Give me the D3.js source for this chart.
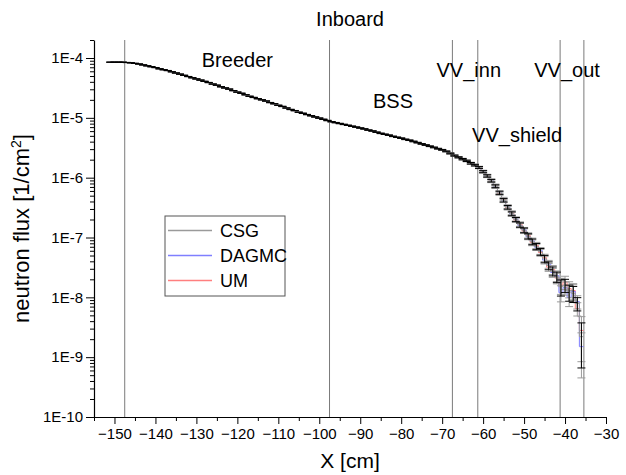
<!DOCTYPE html>
<html>
<head>
<meta charset="utf-8">
<script src="https://cdn.jsdelivr.net/npm/d3@7"></script>
<style>
  body { margin: 0; background: #fff; }
  text { font-family: "Liberation Sans", Arial, sans-serif; fill: #000; }
</style>
</head>
<body>
<div id="chart"></div>
<script>
const svgWidth = 626;
const svgHeight = 475;

const margin = { top: 40, right: 20, bottom: 58, left: 94 };
const width = svgWidth - margin.left - margin.right;
const height = svgHeight - margin.top - margin.bottom;

// bin centres in cm (1 cm bins)
const binCentres = d3.range(-151, -35);

// breeder + BSS part (-151 .. -68): the three codes agree within line width here
const fluxCommon = [
  8.51e-5, 8.51e-5, 8.51e-5, 8.51e-5, 8.41e-5, 8.32e-5, 8.13e-5, 7.94e-5, 7.67e-5, 7.41e-5,
  7.16e-5, 6.92e-5, 6.61e-5, 6.38e-5, 6.17e-5, 5.89e-5, 5.62e-5, 5.37e-5, 5.13e-5, 4.90e-5,
  4.68e-5, 4.47e-5, 4.27e-5, 4.07e-5, 3.89e-5, 3.67e-5, 3.51e-5, 3.31e-5, 3.16e-5, 3.02e-5,
  2.85e-5, 2.69e-5, 2.57e-5, 2.43e-5, 2.29e-5, 2.19e-5, 2.09e-5, 2.00e-5, 1.91e-5, 1.80e-5,
  1.72e-5, 1.62e-5, 1.55e-5, 1.46e-5, 1.38e-5, 1.32e-5, 1.24e-5, 1.19e-5, 1.135e-5, 1.084e-5,
  1.035e-5, 9.89e-6, 9.44e-6, 9.02e-6, 8.61e-6, 8.32e-6, 8.04e-6, 7.76e-6, 7.50e-6, 7.24e-6,
  7.00e-6, 6.76e-6, 6.53e-6, 6.24e-6, 6.03e-6, 5.75e-6, 5.50e-6, 5.31e-6, 5.13e-6, 4.90e-6,
  4.73e-6, 4.57e-6, 4.37e-6, 4.22e-6, 4.03e-6, 3.85e-6, 3.67e-6, 3.51e-6, 3.35e-6, 3.20e-6,
  3.05e-6, 2.92e-6, 2.75e-6, 2.54e-6
];

// vacuum vessel part (-67 .. -36)
const csgSteep = [
  2.34e-6, 2.19e-6, 2.04e-6, 1.91e-6, 1.74e-6, 1.62e-6, 1.48e-6, 1.26e-6, 1.07e-6, 8.9e-7,
  7.2e-7, 5.6e-7, 4.2e-7, 3.2e-7, 2.5e-7, 2.0e-7, 1.62e-7, 1.32e-7, 1.05e-7, 8.5e-8,
  7.1e-8, 5.8e-8, 4.4e-8, 3.4e-8, 2.75e-8, 2.2e-8, 1.5e-8, 1.6e-8, 1.23e-8, 1.17e-8,
  7.9e-9, 2.2e-9
];
const dagmcSteep = [
  2.36e-6, 2.17e-6, 2.06e-6, 1.89e-6, 1.76e-6, 1.60e-6, 1.46e-6, 1.28e-6, 1.05e-6, 9.1e-7,
  7.0e-7, 5.7e-7, 4.1e-7, 3.3e-7, 2.45e-7, 2.05e-7, 1.58e-7, 1.35e-7, 1.02e-7, 8.8e-8,
  6.9e-8, 6.0e-8, 4.2e-8, 3.6e-8, 2.6e-8, 2.3e-8, 1.2e-8, 1.45e-8, 1.0e-8, 1.25e-8,
  8.5e-9, 1.5e-9
];
const umSteep = [
  2.33e-6, 2.21e-6, 2.02e-6, 1.93e-6, 1.72e-6, 1.64e-6, 1.50e-6, 1.24e-6, 1.09e-6, 8.7e-7,
  7.4e-7, 5.4e-7, 4.4e-7, 3.1e-7, 2.6e-7, 1.95e-7, 1.68e-7, 1.28e-7, 1.09e-7, 8.2e-8,
  7.4e-8, 5.6e-8, 4.6e-8, 3.2e-8, 2.9e-8, 2.1e-8, 1.6e-8, 1.8e-8, 1.4e-8, 1.3e-8,
  6.5e-9, 2.8e-9
];

// relative statistical error per bin
const relErrCommon = [
  0.003, 0.003, 0.003, 0.003, 0.003, 0.003, 0.003, 0.003, 0.003, 0.003,
  0.003, 0.003, 0.003, 0.003, 0.003, 0.003, 0.003, 0.003, 0.003, 0.003,
  0.004, 0.004, 0.004, 0.004, 0.004, 0.004, 0.004, 0.004, 0.004, 0.004,
  0.004, 0.004, 0.004, 0.004, 0.004, 0.004, 0.004, 0.004, 0.004, 0.004,
  0.005, 0.005, 0.005, 0.005, 0.005, 0.005, 0.005, 0.005, 0.005, 0.005,
  0.006, 0.006, 0.006, 0.006, 0.006, 0.006, 0.006, 0.006, 0.006, 0.006,
  0.007, 0.007, 0.007, 0.007, 0.007, 0.007, 0.008, 0.008, 0.008, 0.008,
  0.009, 0.009, 0.009, 0.010, 0.010, 0.010, 0.011, 0.011, 0.012, 0.012,
  0.013, 0.014, 0.015, 0.017
];
const relErrSteep = [
  0.02, 0.02, 0.025, 0.025, 0.03, 0.03, 0.035, 0.04, 0.045, 0.05,
  0.055, 0.06, 0.065, 0.07, 0.075, 0.08, 0.085, 0.09, 0.10, 0.11,
  0.12, 0.13, 0.14, 0.15, 0.17, 0.20, 0.30, 0.25, 0.30, 0.30,
  0.25, 0.70
];

// layer boundaries (cm)
const boundaries = [-147.5, -97.5, -67.5, -61.3, -41.2, -35.4];
const regionLabels = [
  { text: "Breeder", x: -120, y: 7.1e-5 },
  { text: "BSS", x: -82, y: 1.46e-5 },
  { text: "VV_inn", x: -63.5, y: 4.8e-5 },
  { text: "VV_out", x: -39.5, y: 4.8e-5 },
  { text: "VV_shield", x: -51.7, y: 3.9e-6 }
];

const yTicks = [1e-10, 1e-9, 1e-8, 1e-7, 1e-6, 1e-5, 1e-4];
const xTicks = d3.range(-150, -29, 10);

const series = [
  { name: "CSG", values: fluxCommon.concat(csgSteep), line: "#9a9a9a", err: "#000" },
  { name: "DAGMC", values: fluxCommon.concat(dagmcSteep), line: "#7f7fff", err: "#9a9a9a" },
  { name: "UM", values: fluxCommon.concat(umSteep), line: "#ff7f7f", err: "#9a9a9a" }
];
const relErr = relErrCommon.concat(relErrSteep);

const svg = d3.select("#chart")
  .append("svg")
  .attr("width", svgWidth)
  .attr("height", svgHeight);

const chartGroup = svg.append("g")
  .attr("transform", `translate(${margin.left}, ${margin.top})`);

const xScale = d3.scaleLinear().domain([-155, -30]).range([0, width]);
const yScale = d3.scaleLog().domain([1e-10, 2e-4]).range([height, 0]);

// boundary lines
chartGroup.selectAll(".bound")
  .data(boundaries)
  .enter()
  .append("line")
  .attr("x1", d => xScale(d)).attr("x2", d => xScale(d))
  .attr("y1", 0).attr("y2", height)
  .attr("stroke", "#7a7a7a")
  .attr("stroke-width", 1);

// step lines
const stepLine = d3.line()
  .x(d => xScale(d[0]))
  .y(d => yScale(d[1]));

series.slice().reverse().forEach(s => {
  const pts = [];
  s.values.forEach((v, i) => {
    pts.push([binCentres[i] - 0.5, v]);
    pts.push([binCentres[i] + 0.5, v]);
  });
  chartGroup.append("path")
    .datum(pts)
    .attr("d", stepLine)
    .attr("fill", "none")
    .attr("stroke", s.line)
    .attr("stroke-width", 1);
});

// error bars
const capHalf = 4;
[series[1], series[2], series[0]].forEach(s => {
  const g = chartGroup.append("g")
    .attr("stroke", s.err)
    .attr("stroke-width", 1)
    .attr("fill", "none");
  s.values.forEach((v, i) => {
    const cx = xScale(binCentres[i]);
    const lo = yScale(v * (1 - relErr[i]));
    const hi = yScale(v * (1 + relErr[i]));
    g.append("path")
      .attr("d", `M${cx},${lo}V${hi}M${cx - capHalf},${lo}H${cx + capHalf}M${cx - capHalf},${hi}H${cx + capHalf}`);
  });
});

// axes
const yMinor = [];
for (let e = -10; e < -3; e++) {
  for (let m = 2; m <= 9; m++) {
    const v = m * Math.pow(10, e);
    if (v <= 2e-4) yMinor.push(v);
  }
}

const yAxisMinor = chartGroup.append("g")
  .call(d3.axisLeft(yScale).tickValues(yMinor).tickSize(4).tickFormat(""));
yAxisMinor.select(".domain").remove();

const yAxis = chartGroup.append("g")
  .call(d3.axisLeft(yScale).tickValues(yTicks).tickSize(8).tickSizeOuter(0)
    .tickFormat(d => "1E" + Math.round(Math.log10(d))));

const xAxisMinor = chartGroup.append("g")
  .attr("transform", `translate(0, ${height})`)
  .call(d3.axisBottom(xScale).tickValues(d3.range(-155, -30, 10)).tickSize(4).tickFormat(""));
xAxisMinor.select(".domain").remove();

const xAxis = chartGroup.append("g")
  .attr("transform", `translate(0, ${height})`)
  .call(d3.axisBottom(xScale).tickValues(xTicks).tickSize(7).tickSizeOuter(0));

svg.selectAll(".domain").attr("stroke", "#000").attr("stroke-width", 1.2);
svg.selectAll(".tick line").attr("stroke", "#000");
yAxis.selectAll("text").attr("font-size", 15).attr("font-family", "Liberation Sans, Arial, sans-serif").attr("x", -11);
xAxis.selectAll("text").attr("font-size", 15).attr("font-family", "Liberation Sans, Arial, sans-serif").attr("y", 11);

// region labels
chartGroup.selectAll(".region")
  .data(regionLabels)
  .enter()
  .append("text")
  .attr("x", d => xScale(d.x))
  .attr("y", d => yScale(d.y))
  .attr("text-anchor", "middle")
  .attr("font-size", 20)
  .text(d => d.text);

// title and axis labels
svg.append("text")
  .attr("x", 350)
  .attr("y", 26)
  .attr("text-anchor", "middle")
  .attr("font-size", 20)
  .text("Inboard");

svg.append("text")
  .attr("x", 350)
  .attr("y", 468)
  .attr("text-anchor", "middle")
  .attr("font-size", 21)
  .text("X [cm]");

const yLabel = svg.append("text")
  .attr("transform", `translate(29, ${margin.top + height / 2}) rotate(-90)`)
  .attr("text-anchor", "middle")
  .attr("font-size", 22);
yLabel.append("tspan").text("neutron flux [1/cm");
yLabel.append("tspan").attr("baseline-shift", "super").attr("font-size", 14).text("2");
yLabel.append("tspan").text("]");

// legend
const legend = svg.append("g").attr("transform", "translate(165, 216)");
legend.append("rect")
  .attr("width", 120).attr("height", 80)
  .attr("fill", "#fff")
  .attr("stroke", "#555")
  .attr("stroke-width", 1);
series.forEach((s, i) => {
  const ly = 14.5 + i * 25;
  legend.append("line")
    .attr("x1", 3).attr("x2", 47)
    .attr("y1", ly).attr("y2", ly)
    .attr("stroke", s.line)
    .attr("stroke-width", 1.5);
  legend.append("text")
    .attr("x", 55)
    .attr("y", ly + 6.5)
    .attr("font-size", 18)
    .text(s.name);
});
</script>
</body>
</html>
